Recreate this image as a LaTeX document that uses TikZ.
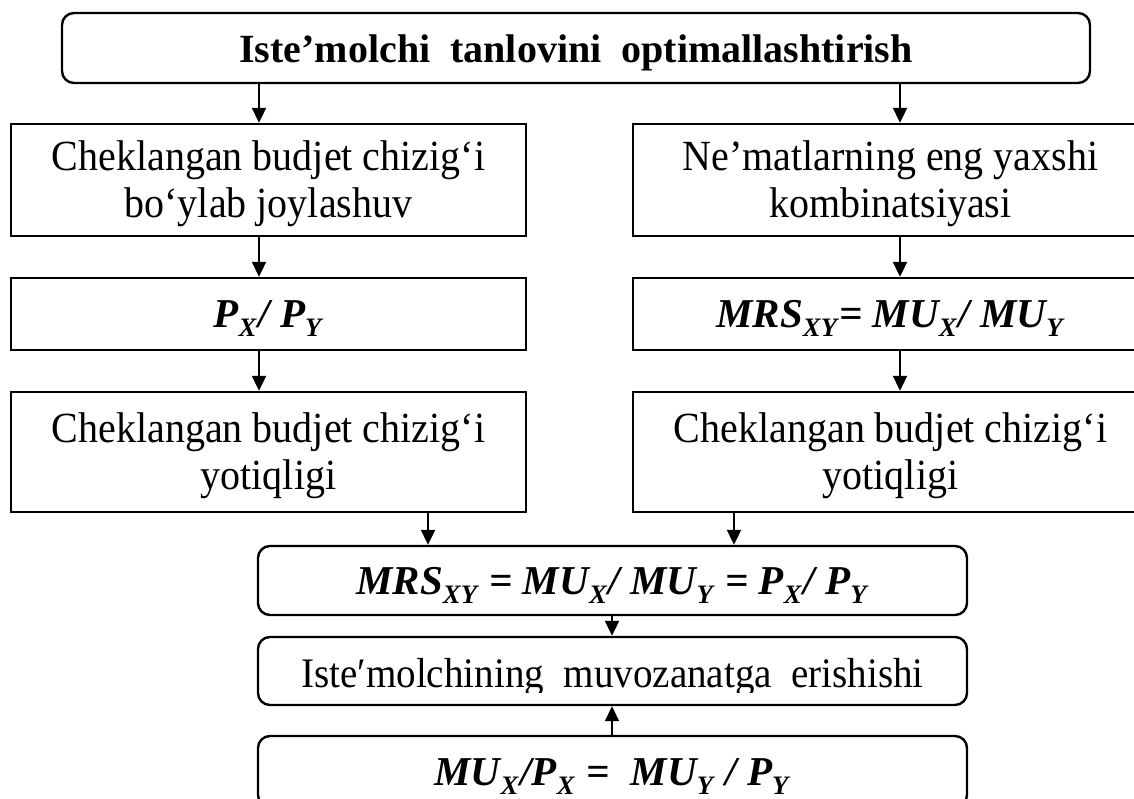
\documentclass[tikz,border=0pt]{standalone}
\usepackage{fontspec}
\usepackage{graphicx}
\setmainfont{Liberation Serif}
\newfontfamily\condfont{Liberation Serif}[FakeStretch=0.93]
\usetikzlibrary{arrows.meta}
\newcommand\mysb[1]{\raisebox{-0.22em}{\scalebox{0.65}{#1}}\kern0.05em\relax}
\tikzset{
  box/.style={draw, line width=1.2pt, inner sep=0pt},
  rbox/.style={box, rounded corners=6pt},
  colbox/.style={minimum width=257.5pt},
  midbox/.style={minimum width=354.5pt},
  txt/.style={inner sep=0pt, align=center, font=\condfont\fontsize{21.5pt}{23.5pt}\selectfont},
  fml/.style={inner sep=0pt, font=\fontsize{20.5pt}{23pt}\selectfont\bfseries\itshape},
  arr/.style={-{Triangle[width=7pt,length=7.5pt]}, line width=1pt},
}
\begin{document}
\begin{tikzpicture}[x=0.5pt,y=-0.5pt]
\useasboundingbox (0,0) rectangle (1134,798);
\clip (0,0) rectangle (1134,798);
% boxes
\node[rbox, minimum width=514pt, minimum height=35pt] (top) at (576,48) {};
\node[box, colbox, minimum height=56pt] (l1) at (268.5,180) {};
\node[box, colbox, minimum height=56pt] (r1) at (890.5,180) {};
\node[box, colbox, minimum height=36pt] (l2) at (268.5,314) {};
\node[box, colbox, minimum height=36pt] (r2) at (890.5,314) {};
\node[box, colbox, minimum height=60pt] (l3) at (268.5,452) {};
\node[box, colbox, minimum height=60pt] (r3) at (890.5,452) {};
\node[rbox, midbox, minimum height=34.5pt] (mrs) at (612.5,580.5) {};
\node[rbox, midbox, minimum height=34pt] (eq) at (612.5,671) {};
\node[rbox, midbox, minimum height=35.5pt] (bot) at (612.5,771.5) {};
% texts
\node[txt, font=\fontsize{20pt}{23pt}\selectfont\bfseries] (topt) at ([yshift=-2.5pt]top.center)
  {Iste’molchi \ tanlovini \ optimallashtirish};
\node[txt] (l1t) at ([yshift=-2pt]l1.center)
  {Cheklangan budjet chizig‘i\\bo‘ylab joylashuv};
\node[txt] (r1t) at ([yshift=-2pt]r1.center)
  {Ne’matlarning eng yaxshi\\kombinatsiyasi};
\node[fml] (l2t) at ([yshift=-2pt]l2.center) {P\mysb{X}/ P\mysb{Y}};
\node[fml] (r2t) at ([yshift=-2pt]r2.center) {MRS\mysb{XY}= MU\mysb{X}/ MU\mysb{Y}};
\node[txt] (l3t) at ([yshift=-2pt]l3.center)
  {Cheklangan budjet chizig‘i\\yotiqligi};
\node[txt] (r3t) at ([yshift=-2pt]r3.center)
  {Cheklangan budjet chizig‘i\\yotiqligi};
\node[fml] (mrst) at ([yshift=-2.5pt]mrs.center)
  {MRS\mysb{XY} = MU\mysb{X}/ MU\mysb{Y} = P\mysb{X}/ P\mysb{Y}};
\begin{scope}
  \clip (258,637) rectangle (967,692);
  \node[anchor=base, inner sep=0pt, font=\condfont\fontsize{21pt}{23pt}\selectfont] (eqt) at (612.5,687)
    {Iste′molchining \ muvozanatga \ erishishi};
\end{scope}
\node[fml] (bott) at ([yshift=-2.5pt]bot.center)
  {MU\mysb{X}/P\mysb{X} = \ MU\mysb{Y} / P\mysb{Y}};
% arrow columns
\coordinate (ca) at (259,0);
\coordinate (cb) at (900,0);
\coordinate (cc) at (428,0);
\coordinate (cd) at (734,0);
\coordinate (ce) at (612,0);
\draw[arr] (top.south -| ca) -- (l1.north -| ca);
\draw[arr] (top.south -| cb) -- (r1.north -| cb);
\draw[arr] (l1.south -| ca) -- (l2.north -| ca);
\draw[arr] (r1.south -| cb) -- (r2.north -| cb);
\draw[arr] (l2.south -| ca) -- (l3.north -| ca);
\draw[arr] (r2.south -| cb) -- (r3.north -| cb);
\draw[arr] (l3.south -| cc) -- (mrs.north -| cc);
\draw[arr] (r3.south -| cd) -- (mrs.north -| cd);
\draw[arr] (mrs.south -| ce) -- (eq.north -| ce);
\draw[arr] (bot.north -| ce) -- (eq.south -| ce);
\end{tikzpicture}
\end{document}
